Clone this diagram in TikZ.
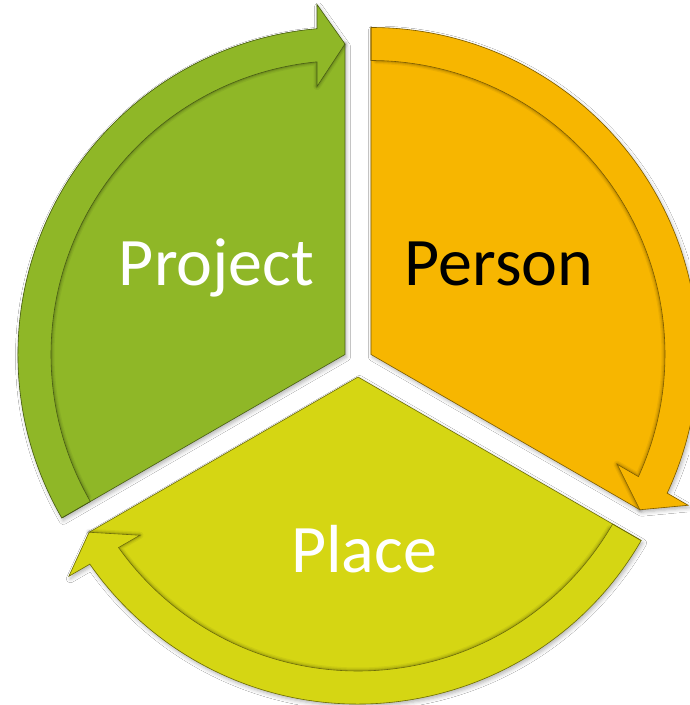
\documentclass[tikz,border=0pt]{standalone}
\usepackage{fontspec}
\setmainfont{Carlito}
\usetikzlibrary{shadows.blur}
\definecolor{cgreen}{HTML}{8FB727}
\definecolor{corange}{HTML}{F7B600}
\definecolor{cyellow}{HTML}{D5D613}
\tikzset{
  outershadow/.style={blur shadow={shadow xshift=1.5pt, shadow yshift=-2.5pt, shadow blur radius=4pt, shadow opacity=30}},
  lbl/.style={anchor=base, inner sep=0pt, font=\fontsize{68}{72}\selectfont},
  innerpath/.style={line join=round, line cap=round},
  pics/cyclepart/.style={code={
    % whole shape
    \path[fill=#1, outershadow]
      (0,0) -- (0,310.5) -- (-28,350) -- (94.91:327)
      arc[start angle=94.91, end angle=210, radius=327] -- cycle;
    % soft shadow of the band onto the wedge
    \foreach \w/\o in {7/0.05, 4.5/0.07, 2.5/0.09}{
      \draw[innerpath, black, opacity=\o, line width=\w pt]
        (0,310.5) -- (-28,268) -- (95.46:294)
        arc[start angle=95.46, end angle=209, radius=294];
    }
    % band with arrow head
    \path[fill=#1, draw=#1!50!black, line width=0.6pt, line join=miter]
      (210:327) arc[start angle=210, end angle=94.91, radius=327]
      -- (-28,350) -- (0,310.5) -- (-28,268) -- (95.46:294)
      arc[start angle=95.46, end angle=210, radius=294] -- cycle;
    % outline of the wedge edges
    \draw[draw=#1!50!black, line width=0.6pt]
      (0,310.5) -- (0,0) -- (210:327);
  }}
}
\begin{document}
\begin{tikzpicture}[x=1pt,y=1pt]
\useasboundingbox[fill=white] (-358,-343) rectangle (331,362);
\pic at (-13,7.5) {cyclepart=cgreen};
\pic[rotate=-120] at (13,7.5) {cyclepart=corange};
\pic[rotate=120] at (0,-15) {cyclepart=cyellow};
\node[lbl, text=white] (project) at (-141.5,77) {Project};
\node[lbl, text=black] (person) at (141,77) {Person};
\node[lbl, text=white] (place) at (6,-210) {Place};
\end{tikzpicture}
\end{document}
